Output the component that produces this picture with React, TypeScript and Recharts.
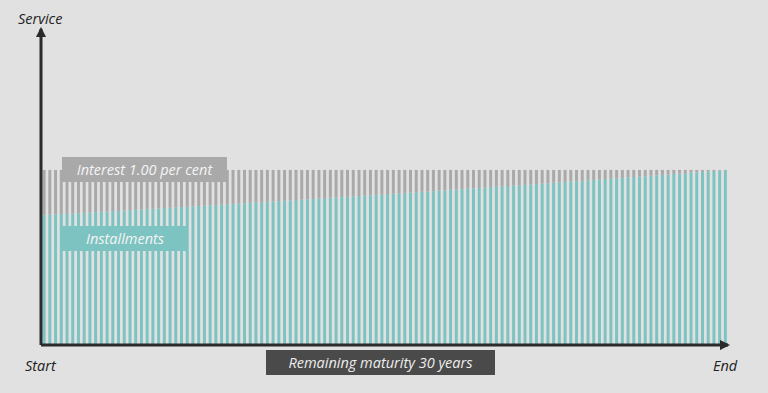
import { Bar, BarChart, XAxis, YAxis } from "recharts";

// 120 quarterly payments over 30 years, as share of the constant service (%)
const installments: number[] = [
  74.2, 74.4, 74.6, 74.8, 74.9, 75.1, 75.3, 75.5, 75.7, 75.9,
  76.1, 76.3, 76.5, 76.6, 76.8, 77.0, 77.2, 77.4, 77.6, 77.8,
  78.0, 78.2, 78.4, 78.6, 78.8, 79.0, 79.2, 79.4, 79.6, 79.8,
  80.0, 80.2, 80.4, 80.6, 80.8, 81.0, 81.2, 81.4, 81.6, 81.8,
  82.0, 82.2, 82.4, 82.6, 82.8, 83.0, 83.2, 83.4, 83.6, 83.9,
  84.1, 84.3, 84.5, 84.7, 84.9, 85.1, 85.3, 85.5, 85.8, 86.0,
  86.2, 86.4, 86.6, 86.8, 87.1, 87.3, 87.5, 87.7, 87.9, 88.2,
  88.4, 88.6, 88.8, 89.0, 89.3, 89.5, 89.7, 89.9, 90.2, 90.4,
  90.6, 90.8, 91.1, 91.3, 91.5, 91.7, 92.0, 92.2, 92.4, 92.7,
  92.9, 93.1, 93.4, 93.6, 93.8, 94.1, 94.3, 94.5, 94.8, 95.0,
  95.2, 95.5, 95.7, 96.0, 96.2, 96.4, 96.7, 96.9, 97.2, 97.4,
  97.7, 97.9, 98.1, 98.4, 98.6, 98.9, 99.1, 99.4, 99.6, 99.9,
];

const interest: number[] = [
  25.8, 25.6, 25.4, 25.2, 25.1, 24.9, 24.7, 24.5, 24.3, 24.1,
  23.9, 23.7, 23.5, 23.4, 23.2, 23.0, 22.8, 22.6, 22.4, 22.2,
  22.0, 21.8, 21.6, 21.4, 21.2, 21.0, 20.8, 20.6, 20.4, 20.2,
  20.0, 19.8, 19.6, 19.4, 19.2, 19.0, 18.8, 18.6, 18.4, 18.2,
  18.0, 17.8, 17.6, 17.4, 17.2, 17.0, 16.8, 16.6, 16.4, 16.1,
  15.9, 15.7, 15.5, 15.3, 15.1, 14.9, 14.7, 14.5, 14.2, 14.0,
  13.8, 13.6, 13.4, 13.2, 12.9, 12.7, 12.5, 12.3, 12.1, 11.8,
  11.6, 11.4, 11.2, 11.0, 10.7, 10.5, 10.3, 10.1, 9.8, 9.6,
  9.4, 9.2, 8.9, 8.7, 8.5, 8.3, 8.0, 7.8, 7.6, 7.3,
  7.1, 6.9, 6.6, 6.4, 6.2, 5.9, 5.7, 5.5, 5.2, 5.0,
  4.8, 4.5, 4.3, 4.0, 3.8, 3.6, 3.3, 3.1, 2.8, 2.6,
  2.3, 2.1, 1.9, 1.6, 1.4, 1.1, 0.9, 0.6, 0.4, 0.1,
];

const data = installments.map((v, i) => ({
  period: i + 1,
  installment: v,
  interest: interest[i],
}));

const TEAL = "#7dc3c1";
const GREY = "#a9a9a9";
const AXIS = "#2b2b2b";
const FONT = "'Open Sans', sans-serif";

const label = (style: React.CSSProperties): React.CSSProperties => ({
  position: "absolute",
  fontFamily: FONT,
  fontStyle: "italic",
  fontSize: 14.5,
  lineHeight: "25px",
  ...style,
});

export default function App() {
  return (
    <div
      style={{
        position: "absolute",
        left: 0,
        top: 0,
        width: 768,
        height: 393,
        background: "#e1e1e1",
        overflow: "hidden",
      }}
    >
      <svg width={0} height={0} style={{ position: "absolute" }}>
        <defs>
          <marker
            id="arrow"
            viewBox="0 0 10 10"
            refX="8"
            refY="5"
            markerWidth="3.5"
            markerHeight="3.5"
            orient="auto-start-reverse"
          >
            <path d="M0,0 L10,5 L0,10 z" fill={AXIS} />
          </marker>
        </defs>
      </svg>
      <BarChart
        width={768}
        height={393}
        data={data}
        margin={{ top: 29, right: 40, bottom: 47, left: 40 }}
        barCategoryGap="28%"
      >
        <XAxis
          dataKey="period"
          tick={false}
          tickLine={false}
          height={1}
          axisLine={{ stroke: AXIS, strokeWidth: 3, markerEnd: "url(#arrow)" } as any}
        />
        <YAxis
          domain={[0, 180.5]}
          tick={false}
          tickLine={false}
          width={1}
          axisLine={{ stroke: AXIS, strokeWidth: 3, markerStart: "url(#arrow)" } as any}
        />
        <Bar dataKey="installment" stackId="s" fill={TEAL} isAnimationActive={false} />
        <Bar dataKey="interest" stackId="s" fill={GREY} isAnimationActive={false} />
      </BarChart>

      <div style={label({ left: 18, top: 6, color: "#222" })}>Service</div>
      <div style={label({ left: 25, top: 353, color: "#222" })}>Start</div>
      <div style={label({ left: 713, top: 353, color: "#222" })}>End</div>

      <div
        style={label({
          left: 62,
          top: 157,
          width: 165,
          height: 25,
          background: GREY,
          color: "#f4f4f4",
          textAlign: "center",
        })}
      >
        Interest 1.00 per cent
      </div>
      <div
        style={label({
          left: 62,
          top: 226,
          width: 126,
          height: 25,
          background: TEAL,
          color: "#f4f4f4",
          textAlign: "center",
        })}
      >
        Installments
      </div>
      <div
        style={label({
          left: 266,
          top: 350,
          width: 229,
          height: 25,
          background: "#4a4a4a",
          color: "#eeeeee",
          textAlign: "center",
        })}
      >
        Remaining maturity 30 years
      </div>
    </div>
  );
}
